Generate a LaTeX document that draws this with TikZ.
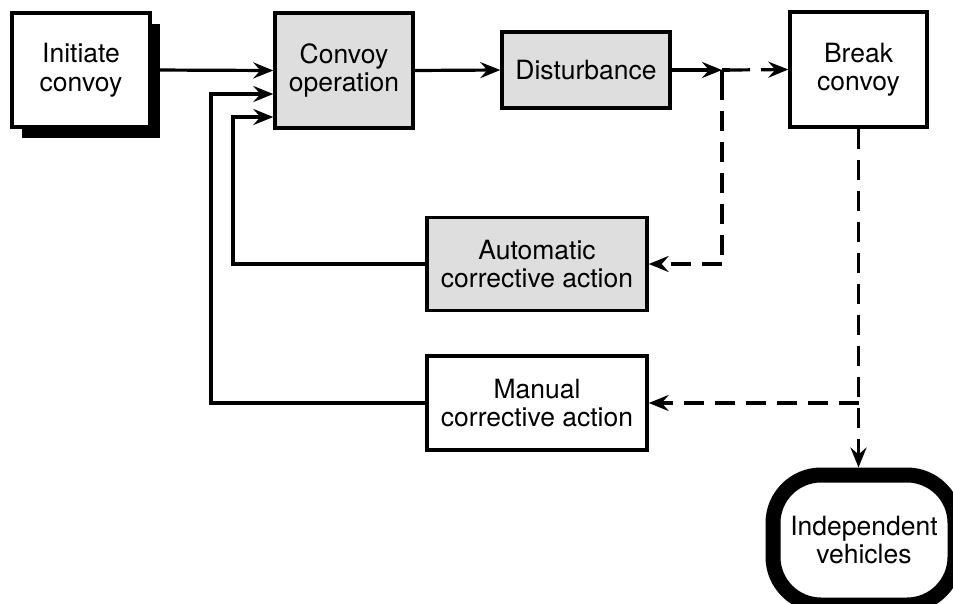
\documentclass[tikz,border=0pt]{standalone}
\usepackage{fontspec}
\setmainfont{TeX Gyre Heros}
\usetikzlibrary{arrows.meta,shadows}
\begin{document}
\begin{tikzpicture}[x=1pt,y=-1pt,
  every node/.style={font=\fontsize{26.5}{28.5}\selectfont, align=center, inner sep=0pt},
  box/.style={draw, line width=3.4pt, fill=white},
  shaded/.style={box, fill=black!13},
  conn/.style={line width=3.2pt},
  arr/.style={conn, -{Stealth[length=20pt,width=16pt,inset=7pt]}},
  dsh/.style={dash pattern=on 20pt off 11pt},
]
\useasboundingbox (0,0) rectangle (953,603);

% process boxes
\node[box, minimum width=138pt, minimum height=114pt,
      drop shadow={shadow xshift=10pt, shadow yshift=-11pt, fill=black, opacity=1}]
  (init) at (81,70) {Initiate\\convoy};
\node[shaded, minimum width=138pt, minimum height=115pt] (conv) at (344,70.5) {Convoy\\operation};
\node[shaded, minimum width=168pt, minimum height=76pt] (dist) at (586,70) {Disturbance};
\node[box, minimum width=137pt, minimum height=115pt] (break) at (858.5,69.5) {Break\\convoy};
\node[shaded, minimum width=220pt, minimum height=93pt] (auto) at (537,264) {Automatic\\corrective action};
\node[box, minimum width=220pt, minimum height=94pt] (man) at (537,403) {Manual\\corrective action};
\node[draw, line width=15pt, rounded corners=48pt, minimum width=182pt, minimum height=130pt]
  (ind) at (864,540) {Independent\\vehicles};

% branch point after the disturbance
\coordinate (j) at (722,70);
\coordinate (jd) at (722,264);

% main flow
\draw[arr] (init.east) -- (conv.west);
\draw[arr] (conv.east) -- (dist.west);
\draw[arr] (dist.east) -- (j);
\draw[conn] (j) -- ++(8,0);
\draw[arr, dsh] ([xshift=8pt]j) -- (break.west);

% automatic correction
\draw[conn] (j) -- ++(0,10);
\draw[conn, dsh] ([yshift=-10pt]j) -- (jd);
\draw[arr, dsh] (jd) -- (auto.east);
\draw[arr] (auto.west) -- (233,264) -- (233,117) -- (conv.west |- 0,117);

% manual correction
\coordinate (k) at (break.south |- man.east);
\draw[arr, dsh] (break.south) -- (break.south |- ind.north);
\draw[arr, dsh] (k) -- (man.east);
\draw[arr] (man.west) -- (211,403) -- (211,94) -- (conv.west |- 0,94);
\end{tikzpicture}
\end{document}
